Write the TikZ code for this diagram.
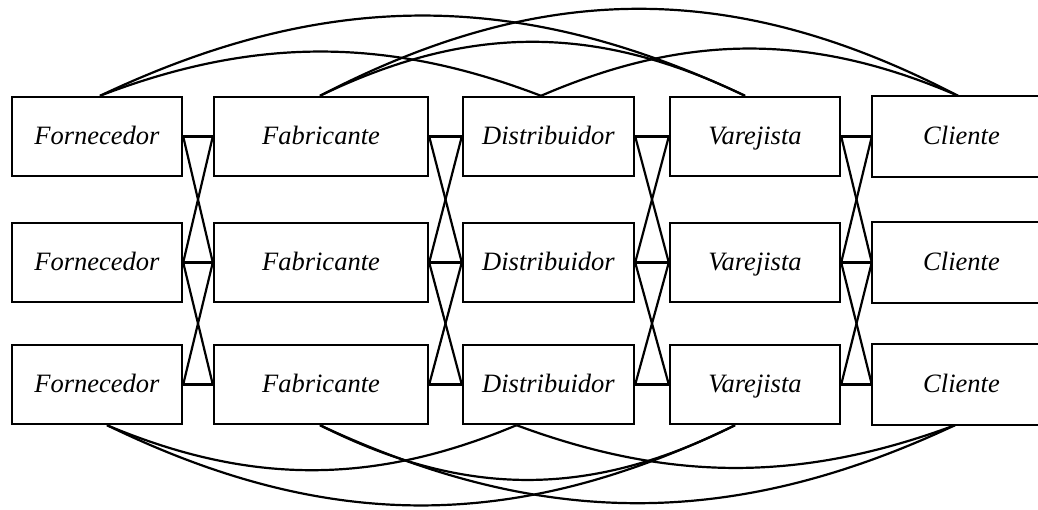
\documentclass[tikz,border=0pt]{standalone}
\usepackage{fontspec}
\setmainfont{Liberation Serif}
\begin{document}
\begin{tikzpicture}[x=1pt,y=-1pt,
  box/.style={draw, line width=2.4pt, inner sep=0pt, minimum height=79pt,
    text height=20pt, text depth=4pt,
    font=\fontsize{26.5}{30}\selectfont\itshape},
  openbox/.style={box, draw=none},
  link/.style={line width=2.2pt}]
\useasboundingbox (0,0) rectangle (1038,510);
\foreach \r/\y in {1/136.5, 2/262.5, 3/384.5}{
  \node[box, minimum width=170pt] (f\r) at (97,\y) {Fornecedor};
  \node[box, minimum width=214pt] (m\r) at (321,\y) {Fabricante};
  \node[box, minimum width=171pt] (d\r) at (548.5,\y) {Distribuidor};
  \node[box, minimum width=170pt] (v\r) at (755,\y) {Varejista};
  \node[openbox, minimum width=177pt] (c\r) at (961.5,\y) {Cliente};
  \draw[line width=2.4pt] ([xshift=40pt]c\r.north east) -| (c\r.south west) -- ([xshift=40pt]c\r.south east);
}
\foreach \a/\b in {f/m, m/d, d/v, v/c}{
  \foreach \r in {1,2,3}{\draw[link] (\a\r.east) -- (\b\r.west);}
  \foreach \r/\s in {1/2, 2/3}{
    \draw[link] (\a\r.east) -- (\b\s.west);
    \draw[link] (\b\r.west) -- (\a\s.east);
  }
}
% top arcs
\draw[link] ([xshift=3pt]f1.north) .. controls +(154,-59) and +(-154,-59) .. ([xshift=-7.5pt]d1.north);
\draw[link] ([xshift=3pt]f1.north) .. controls +(226,-107) and +(-226,-107) .. ([xshift=-10pt]v1.north);
\draw[link] ([xshift=-1pt]m1.north) .. controls +(149,-72) and +(-149,-72) .. ([xshift=-10pt]v1.north);
\draw[link] ([xshift=-1pt]m1.north) .. controls +(223,-116) and +(-223,-116) .. ([xshift=-3.5pt]c1.north);
\draw[link] ([xshift=-7.5pt]d1.north) .. controls +(146,-63) and +(-146,-63) .. ([xshift=-3.5pt]c1.north);
% bottom arcs
\draw[link] ([xshift=10pt]f3.south) .. controls +(143,60) and +(-143,60) .. ([xshift=-32pt]d3.south);
\draw[link] ([xshift=10pt]f3.south) .. controls +(220,107) and +(-220,107) .. ([xshift=-20pt]v3.south);
\draw[link] ([xshift=-1pt]m3.south) .. controls +(145,73) and +(-145,73) .. ([xshift=-20pt]v3.south);
\draw[link] ([xshift=-1pt]m3.south) .. controls +(222,104) and +(-222,104) .. ([xshift=-6.5pt]c3.south);
\draw[link] ([xshift=-32pt]d3.south) .. controls +(154,57) and +(-154,57) .. ([xshift=-6.5pt]c3.south);
\end{tikzpicture}
\end{document}
